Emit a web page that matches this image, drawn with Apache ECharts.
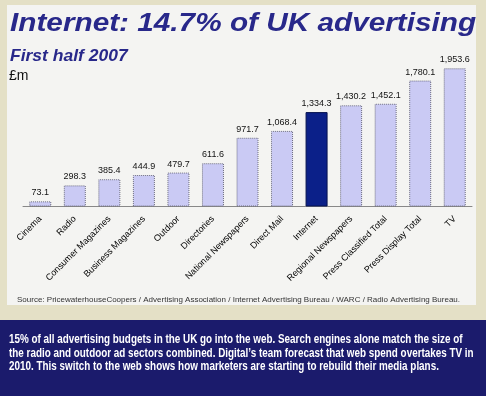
<!DOCTYPE html>
<html>
<head>
<meta charset="utf-8">
<script src="https://cdn.jsdelivr.net/npm/echarts@6/dist/echarts.min.js"></script>
<style>
  html, body { margin: 0; padding: 0; }
  #chart { width: 486px; height: 396px; }
</style>
</head>
<body>
<div id="chart"></div>
<script>
// UK ad spend, first half 2007 (£m)
var categories = ['Cinema', 'Radio', 'Consumer Magazines', 'Business Magazines', 'Outdoor',
  'Directories', 'National Newspapers', 'Direct Mail', 'Internet', 'Regional Newspapers',
  'Press Classified Total', 'Press Display Total', 'TV'];
var spend = [73.1, 298.3, 385.4, 444.9, 479.7, 611.6, 971.7, 1068.4, 1334.3, 1430.2, 1452.1, 1780.1, 1953.6];
var highlight = 'Internet';

var bodyText = '15% of all advertising budgets in the UK go into the web. Search engines alone match the size of\n' +
  'the radio and outdoor ad sectors combined. Digital\u2019s team forecast that web spend overtakes TV in\n' +
  '2010. This switch to the web shows how marketers are starting to rebuild their media plans.';

var FONT = '"Liberation Sans", Arial, sans-serif';
var myChart = echarts.init(document.getElementById('chart'));

function fmt(v) {
  var parts = v.toFixed(1).split('.');
  return parts[0].replace(/\B(?=(\d{3})+(?!\d))/g, ',') + '.' + parts[1];
}

var option = {
  backgroundColor: '#e4e0c6',
  animation: false,
  graphic: [
    // inner light panel
    { type: 'rect', shape: { x: 7, y: 5, width: 469, height: 300 }, style: { fill: '#f4f4f2' }, z: -10 },
    // dark band with commentary
    { type: 'rect', shape: { x: 0, y: 320, width: 486, height: 76 }, style: { fill: '#1b1b6c' }, z: -10 },
    {
      type: 'text', x: 10, y: 24, scaleX: 1.19,
      style: {
        text: 'Internet: 14.7% of UK advertising', fill: '#28288a', verticalAlign: 'middle',
        font: 'italic bold 25px ' + FONT
      }
    },
    {
      type: 'text', x: 10, y: 56, scaleX: 1.03,
      style: {
        text: 'First half 2007', fill: '#28288a', verticalAlign: 'middle',
        font: 'italic bold 17px ' + FONT
      }
    },
    {
      type: 'text', x: 9, y: 76,
      style: { text: '£m', fill: '#111', verticalAlign: 'middle', font: '14px ' + FONT }
    },
    {
      type: 'text', x: 17, y: 300,
      style: {
        text: 'Source: PricewaterhouseCoopers / Advertising Association / Internet Advertising Bureau / WARC / Radio Advertising Bureau.',
        fill: '#333', verticalAlign: 'middle', font: '8px ' + FONT
      }
    },
    {
      type: 'text', x: 9, y: 333, scaleX: 0.76,
      style: {
        text: bodyText, fill: '#ffffff', lineHeight: 13.5,
        font: 'bold 13px ' + FONT
      }
    }
  ],
  grid: { left: 23, right: 14, top: 65, bottom: 189.5 },
  xAxis: {
    type: 'category',
    data: categories,
    axisLine: { lineStyle: { color: '#888', width: 1 } },
    axisTick: { show: false },
    axisLabel: {
      interval: 0, rotate: 45, margin: 11, color: '#000', fontSize: 9,
      fontFamily: FONT
    }
  },
  yAxis: {
    type: 'value', min: 0, max: 2000, show: false,
    splitLine: { show: false }
  },
  series: [{
    type: 'bar',
    barWidth: 22,
    data: spend.map(function (v, i) {
      var hot = categories[i] === highlight;
      return {
        value: v,
        itemStyle: {
          color: hot ? '#0b2089' : '#cacaf4',
          borderColor: hot ? '#06124f' : '#6e6e80',
          borderType: hot ? 'solid' : 'dotted'
        }
      };
    }),
    itemStyle: { borderWidth: 1 },
    label: {
      show: true, position: 'top', distance: 4, color: '#111', fontSize: 9,
      fontFamily: FONT,
      formatter: function (p) { return fmt(p.value); }
    }
  }]
};

myChart.setOption(option);
</script>
</body>
</html>
